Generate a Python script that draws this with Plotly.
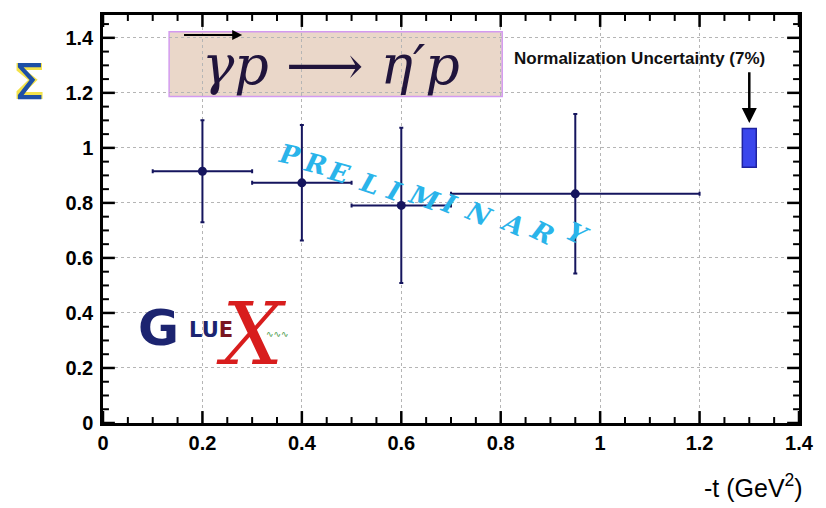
import plotly.graph_objects as go

# ---- data ----
t_center = [0.2, 0.4, 0.6, 0.95]
t_low = [0.1, 0.3, 0.5, 0.7]
t_high = [0.3, 0.5, 0.7, 1.2]
sigma = [0.915, 0.873, 0.791, 0.833]
sigma_err = [0.185, 0.21, 0.282, 0.29]

norm_t = 1.3
norm_center = 1.0
norm_frac = 0.07

err_plus = [h - c for h, c in zip(t_high, t_center)]
err_minus = [c - l for l, c in zip(t_low, t_center)]

NAVY = "#15155e"
XR = [0, 1.4]
YR = [0, 1.483]
PLOT_W, PLOT_H = 704, 410

fig = go.Figure()
fig.add_trace(go.Scatter(
    x=t_center, y=sigma, mode="markers",
    marker=dict(color=NAVY, size=9),
    error_x=dict(type="data", symmetric=False, array=err_plus, arrayminus=err_minus,
                 color=NAVY, thickness=2, width=2),
    error_y=dict(type="data", array=sigma_err, color=NAVY, thickness=2, width=2),
    showlegend=False,
))

# axis ticks (major every 0.2, minor every 0.05) on all four sides, pointing inward
x_tick_pos = [round(i * 0.05, 2) for i in range(0, 29)]
y_tick_pos = [round(i * 0.05, 2) for i in range(0, 30)]
for v in x_tick_pos:
    major = abs(v / 0.2 - round(v / 0.2)) < 1e-6
    L = (12 if major else 6) / PLOT_H
    for y0, y1 in ((0, L), (1, 1 - L)):
        fig.add_shape(type="line", xref="x", yref="paper", x0=v, x1=v, y0=y0, y1=y1,
                      line=dict(color="black", width=2.5 if major else 2), layer="above")
for v in y_tick_pos:
    major = abs(v / 0.2 - round(v / 0.2)) < 1e-6
    L = (12 if major else 6) / PLOT_W
    for x0, x1 in ((0, L), (1, 1 - L)):
        fig.add_shape(type="line", xref="paper", yref="y", x0=x0, x1=x1, y0=v, y1=v,
                      line=dict(color="black", width=2.5 if major else 2), layer="above")

# normalization uncertainty box
fig.add_shape(type="rect", x0=norm_t - 0.014, x1=norm_t + 0.014,
              y0=norm_center * (1 - norm_frac), y1=norm_center * (1 + norm_frac),
              fillcolor="#3a46ec", line=dict(color="#1e22a0", width=1.5), layer="above")
fig.add_annotation(x=norm_t, y=norm_center * (1 + norm_frac) + 0.02, ax=norm_t, ay=1.28,
                   xref="x", yref="y", axref="x", ayref="y", showarrow=True,
                   arrowhead=2, arrowsize=1.2, arrowwidth=2.5, arrowcolor="black", text="")
fig.add_annotation(x=1.08, y=1.325, xref="x", yref="y", showarrow=False,
                   text="<b>Normalization Uncertainty (7%)</b>",
                   font=dict(family="Liberation Sans", size=17, color="#111"),
                   xanchor="center", yanchor="middle")

# title box
fig.add_shape(type="rect", x0=0.133, x1=0.803, y0=1.187, y1=1.422,
              fillcolor="#ead7c9", line=dict(color="#d39af0", width=1.5), layer="below")
fig.add_annotation(x=0.458, y=1.30, xref="x", yref="y", showarrow=False,
                   text="<i>γp</i>&nbsp;⟶&nbsp;<i>η′p</i>",
                   font=dict(family="DejaVu Serif", size=54, color="#20143c"))
fig.add_annotation(x=0.28, y=1.41, ax=0.16, ay=1.41, xref="x", yref="y", axref="x", ayref="y",
                   showarrow=True, arrowhead=2, arrowsize=1, arrowwidth=2, arrowcolor="black", text="")

# Sigma symbol
fig.add_annotation(x=-0.1065, y=0.8366, xref="paper", yref="paper", showarrow=False, text="<b>Σ</b>",
                   xanchor="center", yanchor="middle",
                   font=dict(family="DejaVu Sans", size=50, color="#f3e24a"))
fig.add_annotation(x=-0.1065, y=0.8366, xref="paper", yref="paper", showarrow=False, text="Σ",
                   xanchor="center", yanchor="middle",
                   font=dict(family="DejaVu Sans", size=50, color="#1d4fa6"))

# PRELIMINARY letters along an arc
letters = list("PRELIMINARY")
lx = [291.7, 318, 342, 373, 397, 428, 453, 483, 517, 548, 583]
ly = [153.3, 163, 171.7, 183, 190, 196.7, 203, 213, 223, 231.7, 233]
rots = [12, 14, 16, 18, 20, 20, 22, 24, 24, 26, 26]
for ch, px, py, r in zip(letters, lx, ly, rots):
    fig.add_annotation(x=(px - 103) / 502.9, y=(423 - py) / 276.4, xref="x", yref="y",
                       showarrow=False, text="<b><i>" + ch + "</i></b>", textangle=r,
                       font=dict(family="DejaVu Serif", size=26, color="#2ab4ea"))

# GlueX logo
fig.add_annotation(x=0.112, y=0.347, xref="x", yref="y", showarrow=False, text="<b>G</b>",
                   font=dict(family="DejaVu Sans", size=50, color="#1c2470"))
fig.add_annotation(x=0.218, y=0.338, xref="x", yref="y", showarrow=False,
                   text="<b>LU<span style='color:#7a1620'>E</span></b>",
                   font=dict(family="DejaVu Sans", size=21, color="#1c2470"))
fig.add_annotation(x=0.352, y=0.325, xref="x", yref="y", showarrow=False, text="∿∿∿",
                   font=dict(family="DejaVu Sans", size=9, color="#4a9a4a"))
fig.add_annotation(x=0.298, y=0.322, xref="x", yref="y", showarrow=False, text="<i>X</i>",
                   font=dict(family="DejaVu Serif", size=86, color="#d81d1d"))

fig.add_annotation(x=1.009, y=-0.155, xref="paper", yref="paper", showarrow=False,
                   text="-t (GeV<sup>2</sup>)", xanchor="right", yanchor="middle",
                   font=dict(family="Liberation Sans, Arial", size=25, color="black"))

axis_common = dict(
    showline=True, linecolor="black", linewidth=2.5, mirror=True,
    ticks="", showgrid=True, gridcolor="#b5b5b5", griddash="dot", gridwidth=1,
    zeroline=False, tickmode="linear", tick0=0, dtick=0.2,
    tickfont=dict(family="Liberation Sans, Arial", size=20, color="black", weight="bold"),
)

fig.update_layout(
    width=826, height=508,
    margin=dict(l=103, r=19, t=13, b=85),
    paper_bgcolor="white", plot_bgcolor="white",
    xaxis=dict(range=XR, ticklabelstandoff=0, **axis_common),
    yaxis=dict(range=YR, ticklabelstandoff=3, **axis_common),
)

fig.write_html("out.html")
